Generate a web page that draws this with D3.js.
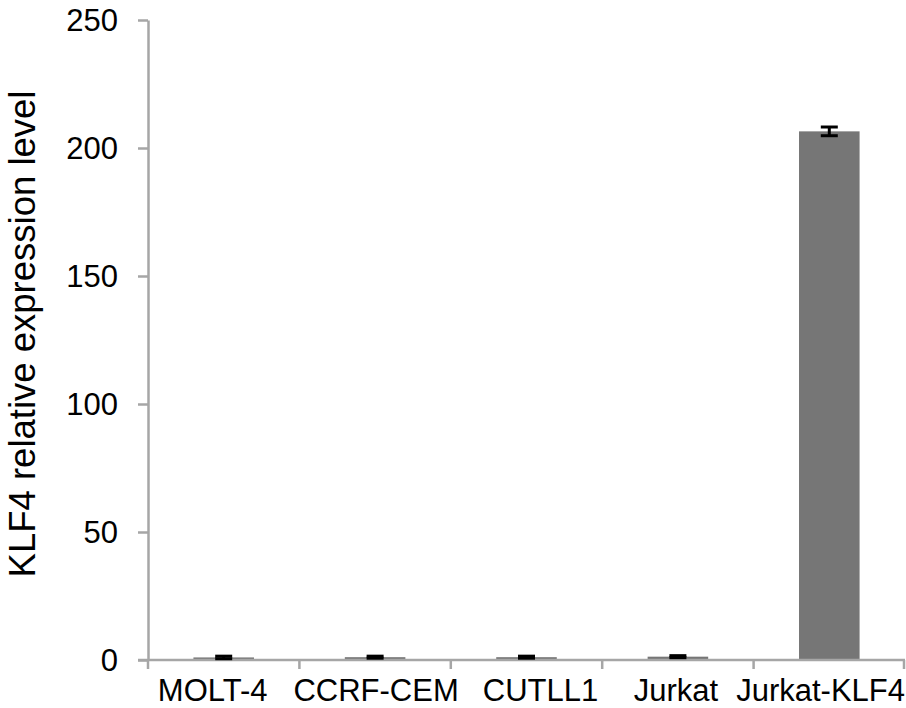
<!DOCTYPE html>
<html><head><meta charset="utf-8">
<script src="https://cdn.jsdelivr.net/npm/d3@7"></script>
<style>html,body{margin:0;padding:0;background:#fff;}svg{display:block;font-family:"Liberation Sans",Arial,sans-serif;}</style>
</head><body>
<svg id="c" width="906" height="708"></svg>
<script>
const categories = ["MOLT-4","CCRF-CEM","CUTLL1","Jurkat","Jurkat-KLF4"];
const values = [1.0, 1.1, 1.1, 1.3, 206.5];
const errors = [0.5, 0.4, 0.4, 0.4, 1.7];
const yTicks = [0, 50, 100, 150, 200, 250];
const yTitle = "KLF4 relative expression level";

(function(){
const svg = d3.select("#c");
const mLeft = 148, mRight = 905, mTop = 20, mBottom = 660;
const axisColor = "#a6a6a6";

const x = d3.scaleBand().domain(categories).range([mLeft, mRight]).paddingInner(0.6).paddingOuter(0.3);
const y = d3.scaleLinear().domain([0, 250]).range([mBottom, mTop]);

// bars
svg.selectAll("rect.bar").data(categories).enter().append("rect")
  .attr("x", d => x(d)).attr("width", x.bandwidth())
  .attr("y", (d,i) => y(values[i])).attr("height", (d,i) => y(0) - y(values[i]))
  .attr("fill", "#767676");

// y axis
const yAxis = d3.axisLeft(y).tickValues(yTicks).tickSize(10).tickPadding(20).tickSizeOuter(0);
const gy = svg.append("g").attr("transform", `translate(${mLeft},0)`).call(yAxis);
gy.select(".domain").attr("stroke", axisColor).attr("stroke-width", 2.5);
gy.selectAll(".tick line").attr("stroke", axisColor).attr("stroke-width", 2.5);
gy.selectAll(".tick text").attr("fill", "#000").style("font-size", "31px").style("font-family", "'Liberation Sans',Arial,sans-serif").attr("dy", "0.35em");

// x axis
const gx = svg.append("g").attr("transform", `translate(0,${mBottom})`);
gx.append("line").attr("x1", mLeft - 10).attr("x2", mRight).attr("y1", 0).attr("y2", 0)
  .attr("stroke", axisColor).attr("stroke-width", 2.5);
const edges = [mLeft].concat(categories.slice(1).map(c => x(c) - (x.step() - x.bandwidth())/2)).concat([mRight - 1]);
gx.selectAll("line.t").data(edges).enter().append("line")
  .attr("x1", d => d).attr("x2", d => d).attr("y1", 0).attr("y2", 9)
  .attr("stroke", axisColor).attr("stroke-width", 2.5);
const labelShift = [-11, 1, 14, -2, 0];
const labels = gx.selectAll("text").data(categories).enter().append("text")
  .attr("x", (d,i) => x(d) + x.bandwidth()/2 + labelShift[i]).attr("y", 41)
  .attr("text-anchor", "middle").style("font-size", "31px").attr("fill", "#000")
  .text(d => d);
// keep the last label inside the right edge
labels.each(function(){
  const bb = this.getBBox();
  if (bb.x + bb.width > 905) {
    d3.select(this).attr("x", +d3.select(this).attr("x") - (bb.x + bb.width - 905));
  }
});

// error bars
const cap = 8.5;
const eb = svg.append("g").attr("stroke", "#000").attr("stroke-width", 3);
categories.forEach((c, i) => {
  const cx = x(c) + x.bandwidth()/2;
  const y1 = y(values[i] + errors[i]), y2 = y(values[i] - errors[i]);
  eb.append("line").attr("x1", cx).attr("x2", cx).attr("y1", y1).attr("y2", y2);
  eb.append("line").attr("x1", cx - cap).attr("x2", cx + cap).attr("y1", y1).attr("y2", y1);
  eb.append("line").attr("x1", cx - cap).attr("x2", cx + cap).attr("y1", y2).attr("y2", y2);
});

// y title
svg.append("text").attr("transform", `translate(35,334) rotate(-90)`)
  .attr("text-anchor", "middle").style("font-size", "36.5px").attr("fill", "#000").text(yTitle);
})();
</script>
</body></html>
